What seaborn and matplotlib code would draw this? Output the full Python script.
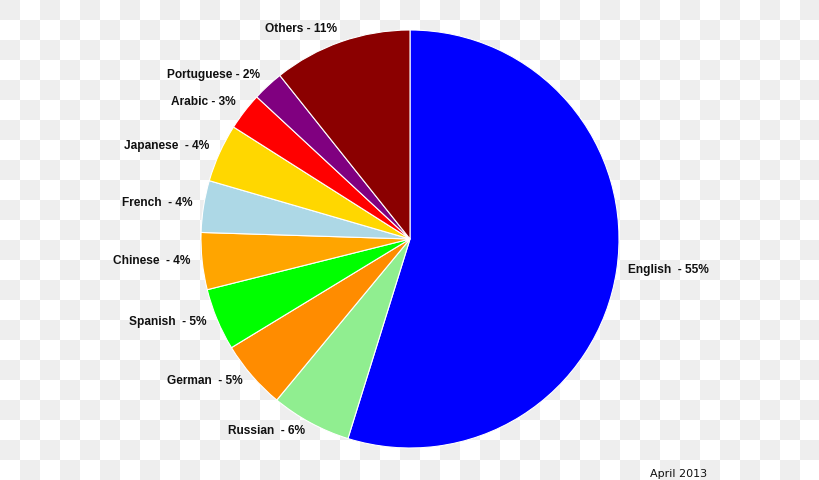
import numpy as np
import matplotlib
matplotlib.use("Agg")
import matplotlib.pyplot as plt
import matplotlib.transforms as mtransforms
import seaborn as sns

languages = ["English", "Russian", "German", "Spanish", "Chinese",
             "French", "Japanese", "Arabic", "Portuguese", "Others"]
shares = [54.8, 6.2, 5.3, 4.8, 4.4, 4.0, 4.5, 2.9, 2.4, 10.7]
label_texts = ["English  - 55%", "Russian  - 6%", "German  - 5%", "Spanish  - 5%",
               "Chinese  - 4%", "French  - 4%", "Japanese  - 4%", "Arabic - 3%",
               "Portuguese - 2%", "Others - 11%"]
colors = ["#0000ff", "#90ee90", "#ff8c00", "#00ff00", "#ffa500",
          "#add8e6", "#ffd700", "#ff0000", "#800080", "#8b0000"]
footnote = "April 2013"

sns.set_style("white")
plt.rcParams["font.family"] = ["Liberation Sans", "DejaVu Sans"]

W, H = 820, 480
fig = plt.figure(figsize=(W / 100, H / 100), dpi=100)

# checkerboard background (transparent-image look)
bg = fig.add_axes([0, 0, 1, 1])
rows, cols = H // 20, W // 20
board = (np.add.outer(np.arange(rows), np.arange(cols)) % 2 == 0).astype(float)
bg.imshow(board, cmap=matplotlib.colors.ListedColormap(["#ffffff", "#eeeeee"]),
          interpolation="nearest", aspect="auto", extent=[0, W, H, 0])
bg.set_axis_off()

cx, cy, r = 410, 239, 209
ax = fig.add_axes([(cx - r) / W, (H - cy - r) / H, 2 * r / W, 2 * r / H])
wedges, texts = ax.pie(shares, labels=label_texts, colors=colors, startangle=90,
                       counterclock=False, labeldistance=1.055,
                       wedgeprops=dict(edgecolor="white", linewidth=0.8),
                       textprops=dict(fontsize=8.6, fontweight="bold", color="#111111"))
for t in texts:
    t.set_transform(mtransforms.offset_copy(ax.transData, fig=fig, x=0, y=2, units="dots"))
ax.set_xlim(-1, 1)
ax.set_ylim(-1, 1)
ax.set_aspect("equal")
ax.set_axis_off()

fig.text(679 / W, 1 - 474 / H, footnote, ha="center", va="center",
         fontsize=8, family="DejaVu Sans", color="#111111")

fig.savefig("out.png", dpi=100)
